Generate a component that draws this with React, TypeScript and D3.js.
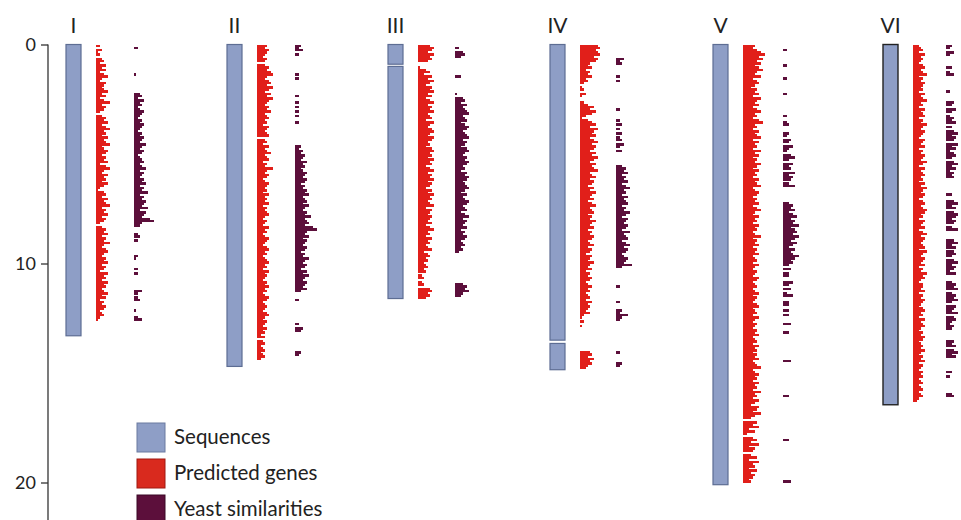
import React, { useEffect, useRef } from "react";
import * as d3 from "d3";

// ---------- data ----------
const chromosomes = ["I", "II", "III", "IV", "V", "VI"];
const lengthsMb = [13.3, 14.7, 11.6, 14.85, 20.1, 16.45];
const sequenceSegments: number[][][] = [
  [[0, 13.3]],
  [[0, 14.7]],
  [[0, 0.9], [1.0, 11.6]],
  [[0, 13.5], [13.65, 14.85]],
  [[0, 20.1]],
  [[0, 16.45]],
];
const axisTicks = [0, 10, 20];
const binMb = 0.1;
const legendLabels = ["Sequences", "Predicted genes", "Yeast similarities"];

const genesI = [
  2,0,3,1,2,0,3,4,2,5,
  3,5,2,4,6,3,2,5,4,3,
  4,6,3,5,2,4,7,3,5,4,
  2,0,3,5,4,6,3,5,7,4,
  5,3,6,4,5,7,3,4,6,5,
  3,5,4,6,2,5,7,4,3,6,
  4,5,3,6,4,2,1,4,5,3,
  6,4,5,7,3,5,4,6,3,5,
  4,2,0,3,5,4,6,3,5,4,
  7,4,3,5,6,4,3,5,4,6,
  3,5,4,2,6,4,5,3,6,4,
  5,3,4,6,3,5,2,4,3,5,
  4,2,3,4,2,1,
];
const yeastI = [
  0,2,0,0,0,0,0,0,0,0,
  0,0,0,1,0,0,0,0,0,0,
  0,0,3,4,2,5,3,4,2,3,
  5,4,3,2,4,3,5,4,3,2,
  4,3,5,4,3,6,4,3,5,4,
  2,3,4,5,3,4,6,3,5,4,
  3,5,4,6,3,5,4,7,3,5,
  4,6,5,4,7,3,6,5,4,8,
  10,4,3,0,0,0,2,3,0,2,
  0,0,0,0,0,0,2,1,0,0,
  0,0,2,0,2,0,0,0,0,0,
  0,0,4,2,0,2,3,0,0,0,
  0,1,0,0,2,4,0,
];
const genesII = [
  5,4,6,5,4,3,5,4,0,4,
  6,5,7,8,5,4,6,7,5,8,
  6,4,7,5,8,6,5,4,6,5,
  7,4,5,6,4,5,3,6,5,4,
  5,6,0,4,5,3,6,4,5,7,
  4,5,6,3,5,4,8,5,4,6,
  5,3,4,6,5,4,5,3,6,4,
  5,4,6,3,5,4,5,6,4,3,
  5,4,3,6,4,5,3,4,6,5,
  4,3,5,6,4,5,3,4,5,6,
  4,5,3,6,4,5,4,3,5,4,
  6,4,5,3,4,6,5,3,4,5,
  4,3,5,6,4,3,5,4,3,5,
  3,4,2,4,0,3,4,2,3,4,
  2,3,4,2,
];
const yeastII = [
  3,2,4,0,2,0,0,0,0,0,
  0,0,0,2,0,2,0,0,0,0,
  0,0,0,2,0,0,2,0,2,0,
  2,0,2,0,0,2,0,0,0,0,
  0,0,0,0,0,0,3,2,4,3,
  5,4,3,6,4,5,3,4,6,5,
  4,6,5,3,5,4,6,5,7,4,
  5,6,4,7,5,4,6,5,8,5,
  6,7,5,9,11,6,5,7,4,6,
  5,4,6,5,3,5,4,7,5,4,
  6,5,3,6,4,7,5,4,6,5,
  4,6,3,0,0,0,2,0,0,0,
  0,0,0,0,0,0,0,2,0,4,
  3,0,0,0,0,0,0,0,0,0,
  3,2,0,0,0,0,0,
];
const genesIII = [
  6,8,7,5,8,6,7,5,0,0,
  1,4,6,3,7,5,8,6,4,7,
  6,8,5,7,4,6,8,5,7,6,
  8,5,6,7,4,8,6,5,7,8,
  6,5,8,7,5,6,4,7,8,6,
  7,5,8,6,7,4,6,8,5,7,
  6,8,5,7,6,4,7,5,8,6,
  7,5,6,8,4,7,6,5,7,6,
  5,7,4,6,8,5,6,4,7,5,
  6,4,5,7,3,5,6,4,5,3,
  4,5,3,4,0,2,3,0,2,3,
  0,6,7,5,6,4,
];
const yeastIII = [
  0,2,0,4,5,3,0,0,0,0,
  0,0,0,0,3,0,0,0,0,0,
  0,0,1,0,4,5,3,6,4,5,
  6,7,4,5,6,3,5,7,6,4,
  5,6,7,4,6,5,3,6,7,5,
  4,6,5,7,6,4,5,3,6,5,
  7,6,4,5,6,7,5,3,6,4,
  5,7,6,4,5,6,3,5,7,4,
  6,5,4,6,3,5,4,6,5,3,
  4,5,3,4,2,0,0,0,0,0,
  0,0,0,0,0,0,0,0,0,4,
  6,5,7,4,3,0,
];
const genesIV = [
  9,10,8,9,10,7,9,8,5,4,
  6,3,5,4,6,3,4,2,0,1,
  2,0,3,1,0,0,2,4,7,5,
  8,6,3,1,4,6,8,5,9,7,
  6,8,5,7,9,6,8,7,5,8,
  6,9,7,5,8,6,7,9,5,6,
  8,5,7,6,4,7,5,8,6,5,
  7,4,6,8,5,6,7,4,6,5,
  8,6,5,7,4,6,5,7,6,4,
  5,7,4,6,5,3,6,5,4,7,
  5,4,6,3,5,4,6,5,3,4,
  6,4,5,3,4,5,3,6,4,5,
  4,3,5,2,1,0,2,0,1,0,
  0,0,0,0,0,0,0,0,0,0,
  5,6,4,7,5,6,4,3,
];
const yeastIV = [
  0,0,0,0,0,0,4,2,3,0,
  0,0,0,0,2,0,2,0,0,0,
  0,0,0,0,0,0,0,0,0,2,
  0,0,0,0,2,0,3,0,2,0,
  3,0,2,3,0,4,2,0,3,0,
  0,0,0,0,0,3,5,4,6,3,
  5,4,6,3,5,7,4,5,3,6,
  4,5,6,3,5,4,7,5,3,6,
  5,4,6,5,3,7,4,5,6,3,
  5,7,4,6,5,3,4,6,5,4,
  8,3,0,0,0,0,0,0,0,0,
  2,0,0,0,0,0,0,2,0,0,
  0,3,2,6,3,2,0,0,0,0,
  0,0,0,0,0,0,0,0,0,0,
  2,0,0,0,0,3,2,0,0,
];
const genesV = [
  6,5,7,9,11,8,10,7,9,6,
  8,10,7,6,9,5,7,8,6,4,
  7,6,8,5,9,7,6,8,5,7,
  9,6,7,5,8,10,6,7,5,8,
  6,7,9,5,8,6,7,5,9,6,
  8,5,7,6,9,7,5,8,6,7,
  5,8,6,7,9,5,6,8,7,5,
  7,6,8,5,7,9,6,5,8,6,
  7,5,8,6,7,5,6,9,5,7,
  6,8,5,7,6,8,5,6,7,5,
  8,6,5,7,6,5,8,7,5,6,
  7,5,6,8,5,7,6,5,7,8,
  5,6,7,5,8,6,5,7,6,5,
  7,6,8,5,6,7,5,8,6,7,
  5,7,6,8,5,6,7,9,5,6,
  8,6,7,5,8,6,7,5,9,6,
  7,5,8,6,4,8,7,5,9,6,
  4,0,7,5,8,3,6,2,0,5,
  7,4,8,3,6,5,0,4,7,3,
  8,5,6,3,7,4,6,5,3,4,
];
const yeastV = [
  0,0,2,0,0,0,0,0,0,2,
  0,0,0,0,0,2,0,0,0,0,
  0,0,2,0,0,0,0,0,0,0,
  0,0,2,0,0,2,3,0,0,0,
  3,2,0,4,3,0,5,3,2,0,
  4,6,3,0,5,3,4,0,6,3,
  5,4,0,3,6,0,0,0,0,0,
  0,0,3,5,4,6,3,5,7,4,
  6,5,8,4,6,7,5,8,6,4,
  7,5,3,6,4,5,8,6,4,5,
  3,0,4,0,3,3,0,0,5,3,
  0,4,0,2,5,0,0,3,3,0,
  0,3,0,3,0,0,0,4,0,0,
  0,3,0,0,0,0,0,0,0,0,
  0,0,0,0,4,0,0,0,0,0,
  0,0,0,0,0,0,0,0,0,0,
  3,0,0,0,0,0,0,0,0,0,
  0,0,0,0,0,0,0,0,0,0,
  3,0,0,0,0,0,0,0,0,0,
  0,0,0,0,0,0,0,0,0,4,
  0,
];
const genesVI = [
  3,4,5,3,6,4,5,4,3,5,
  6,4,5,7,3,5,4,6,5,4,
  5,3,6,4,5,7,4,5,3,6,
  4,5,6,3,5,4,7,5,4,6,
  5,4,3,6,5,4,6,3,5,4,
  6,5,4,7,5,3,6,4,5,6,
  4,5,3,6,4,7,5,4,6,5,
  3,5,6,4,5,7,6,4,5,3,
  6,5,4,6,3,5,7,4,6,5,
  4,5,6,3,7,5,4,6,5,4,
  6,3,5,4,7,5,6,4,3,5,
  5,4,6,3,5,4,6,5,4,3,
  5,6,4,5,3,6,4,5,6,4,
  3,5,4,6,5,3,4,5,4,6,
  4,3,5,4,6,3,5,4,3,5,
  4,5,3,4,5,3,4,5,3,4,
  5,3,2,
];
const yeastVI = [
  3,2,0,4,2,0,0,0,0,0,
  3,0,2,4,0,0,0,0,0,0,
  0,2,0,0,0,0,4,3,0,5,
  3,0,2,4,3,5,0,3,0,4,
  6,3,5,4,0,6,3,5,2,4,
  5,3,0,4,6,3,5,2,4,3,
  4,0,0,0,0,0,0,0,3,0,
  0,4,6,3,5,0,4,6,5,3,
  5,4,0,3,6,0,0,0,0,4,
  6,3,5,0,4,5,3,0,4,6,
  3,5,4,2,5,0,0,0,3,5,
  4,6,0,3,5,4,6,3,0,5,
  4,3,6,0,4,5,3,2,4,3,
  0,0,0,0,0,4,3,5,0,4,
  6,3,5,0,0,0,0,0,0,3,
  0,2,0,0,0,0,0,0,0,3,
  4,0,
];

const predictedGenes = [genesI, genesII, genesIII, genesIV, genesV, genesVI];
const yeastSimilarities = [yeastI, yeastII, yeastIII, yeastIV, yeastV, yeastVI];

// ---------- style ----------
const FONT = "Lato, 'Open Sans', sans-serif";
const SEQ_FILL = "#8e9ec6";
const SEQ_STROKE = "#5d6d93";
const GENE_FILL = "#e11f1a";
const YEAST_FILL = "#5c0f3b";
const TEXT = "#222";

export default function App() {
  const axisRef = useRef<SVGGElement>(null);

  const y = d3.scaleLinear().domain([0, 20]).range([44.5, 482.5]);
  const chromX = d3
    .scaleOrdinal<string, number>()
    .domain(chromosomes)
    .range([66, 227, 388, 550, 713, 883]);
  const yeastOffset = d3
    .scaleOrdinal<string, number>()
    .domain(chromosomes)
    .range([68, 68, 67, 66, 70, 63]);
  const w = d3.scaleLinear().domain([0, 10]).range([0, 20]);
  const barW = 15;
  const binH = y(binMb) - y(0);

  useEffect(() => {
    if (!axisRef.current) return;
    const g = d3.select(axisRef.current);
    g.selectAll("*").remove();
    g.call(
      d3
        .axisLeft(y)
        .tickValues(axisTicks)
        .tickSize(7)
        .tickPadding(5)
        .tickSizeOuter(0)
        .tickFormat(d3.format("d"))
    );
    g.select(".domain").remove();
    g.selectAll(".tick line").attr("stroke", "#333").attr("stroke-width", 1.3);
    g.selectAll(".tick text")
      .attr("fill", TEXT)
      .style("font-family", FONT)
      .style("font-size", "18px");
  }, []);

  return (
    <svg
      width={961}
      height={520}
      style={{ position: "absolute", left: 0, top: 0, background: "#fff" }}
    >
      {/* axis */}
      <g ref={axisRef} transform="translate(48,0)" />
      <line x1={48} x2={48} y1={y(0)} y2={520} stroke="#333" strokeWidth={1.3} />

      {chromosomes.map((c, ci) => {
        const x0 = chromX(c);
        return (
          <g key={c}>
            <text
              x={x0 + barW / 2}
              y={33}
              textAnchor="middle"
              fontFamily={FONT}
              fontSize={21}
              fill={TEXT}
            >
              {c}
            </text>
            {sequenceSegments[ci].map((s, si) => (
              <rect
                key={si}
                x={x0}
                y={y(s[0])}
                width={barW}
                height={y(s[1]) - y(s[0])}
                fill={SEQ_FILL}
                stroke={ci === 5 ? "#222" : SEQ_STROKE}
                strokeWidth={ci === 5 ? 1.4 : 1.2}
              />
            ))}
            <g shapeRendering="crispEdges">
              {predictedGenes[ci].map((v, i) =>
                v > 0 ? (
                  <rect
                    key={"g" + i}
                    x={x0 + 30}
                    y={y(i * binMb)}
                    width={w(v)}
                    height={binH + 0.4}
                    fill={GENE_FILL}
                  />
                ) : null
              )}
              {yeastSimilarities[ci].map((v, i) =>
                v > 0 ? (
                  <rect
                    key={"y" + i}
                    x={x0 + yeastOffset(c)}
                    y={y(i * binMb)}
                    width={w(v)}
                    height={binH + 0.4}
                    fill={YEAST_FILL}
                  />
                ) : null
              )}
            </g>
          </g>
        );
      })}

      {/* legend */}
      {legendLabels.map((label, i) => (
        <g key={label} transform={`translate(137,${423 + i * 36})`}>
          <rect
            width={28}
            height={29}
            fill={[SEQ_FILL, "#d92a1e", YEAST_FILL][i]}
            stroke={["#6b7aa0", "#a01810", "#3a0826"][i]}
            strokeWidth={1}
          />
          <text x={37} y={21} fontFamily={FONT} fontSize={20.5} fill={TEXT}>
            {label}
          </text>
        </g>
      ))}
    </svg>
  );
}
